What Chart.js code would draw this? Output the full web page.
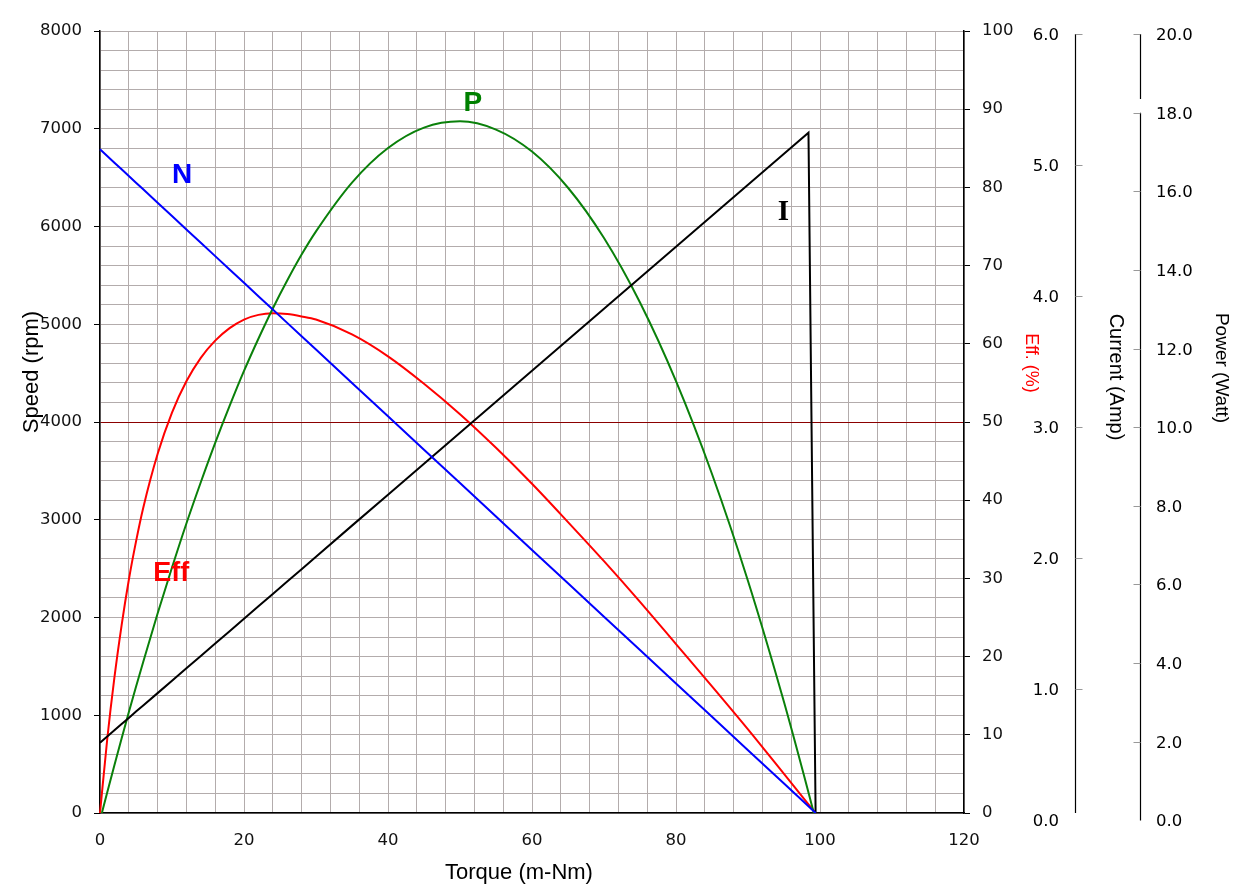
<!DOCTYPE html>
<html>
<head>
<meta charset="utf-8">
<script src="https://cdn.jsdelivr.net/npm/chart.js@4.4.0/dist/chart.umd.min.js"></script>
<style>
html,body{margin:0;padding:0;background:#fff;}
canvas{display:block;}
</style>
</head>
<body>
<canvas id="c" width="1246" height="894"></canvas>
<script>
// ---- data ----
const torque     = [0, 1, 2, 3, 4, 5, 6, 8, 10, 12, 14, 16, 18, 20, 22, 24, 26, 28, 30, 35, 40, 45, 50, 55, 60, 65, 70, 75, 80, 85, 90, 95, 98.4, 99.4];
const speed      = [6790, 6722, 6653, 6585, 6517, 6448, 6380, 6243, 6107, 5970, 5834, 5697, 5560, 5424, 5287, 5151, 5014, 4877, 4741, 4399, 4058, 3716, 3375, 3033, 2691, 2350, 2008, 1667, 1325, 984, 642, 301, 68, 0];
const current    = [0.593, 0.640, 0.688, 0.735, 0.782, 0.830, 0.877, 0.971, 1.066, 1.161, 1.255, 1.350, 1.444, 1.539, 1.634, 1.728, 1.823, 1.917, 2.012, 2.249, 2.485, 2.722, 2.958, 3.195, 3.431, 3.668, 3.904, 4.141, 4.377, 4.614, 4.850, 5.087, 5.247, 0];
const power      = [0, 0.71, 1.40, 2.08, 2.75, 3.40, 4.03, 5.26, 6.43, 7.55, 8.60, 9.60, 10.54, 11.43, 12.25, 13.02, 13.73, 14.39, 14.98, 16.22, 17.10, 17.62, 17.78, 17.57, 17.01, 16.09, 14.81, 13.17, 11.17, 8.81, 6.09, 3.01, 0.71, 0];
const efficiency = [0, 9.4, 17.3, 24.0, 29.8, 34.7, 39.0, 45.9, 51.2, 55.2, 58.2, 60.4, 62.0, 63.1, 63.7, 63.9, 63.8, 63.5, 63.1, 61.2, 58.4, 54.9, 51.0, 46.7, 42.1, 37.2, 32.2, 27.0, 21.6, 16.2, 10.7, 5.0, 1.1, 0];

const currentTicks = [0, 1, 2, 3, 4, 5, 6];
const powerTicks   = [0, 2, 4, 6, 8, 10, 12, 14, 16, 18, 20];

const curveNames   = ['N', 'P', 'I', 'Eff'];
const curveNameAt  = [[11.4, 6527], [51.8, 7263], [94.9, 6138], [9.9, 2445]];

// ---- styling ----
const TICK_FONT = {family: 'DejaVu Sans', size: 16.5};
const GRID = '#b3acac';
const pts = (ys) => torque.map((t, i) => ({x: t, y: ys[i]}));

const extraAxes = {
  id: 'extraAxes',
  afterDraw(chart) {
    const ctx = chart.ctx, ca = chart.chartArea;
    const sI = chart.scales.yI, sP = chart.scales.yP;
    ctx.save();
    ctx.lineWidth = 1.2;
    ctx.strokeStyle = '#000';
    // Current axis
    const xI = 1075.5;
    ctx.beginPath();
    ctx.moveTo(xI, sI.getPixelForValue(currentTicks[currentTicks.length - 1]));
    ctx.lineTo(xI, ca.bottom);
    ctx.stroke();
    ctx.font = '16.5px "DejaVu Sans"';
    ctx.fillStyle = '#000';
    ctx.textAlign = 'right';
    ctx.textBaseline = 'middle';
    ctx.strokeStyle = '#999';
    ctx.lineWidth = 1;
    currentTicks.forEach(v => {
      const y = Math.round(sI.getPixelForValue(v)) + 0.5;
      if (y <= ca.bottom) {
        ctx.beginPath(); ctx.moveTo(xI, y); ctx.lineTo(xI + 7, y); ctx.stroke();
      }
      ctx.fillText(v.toFixed(1), 1059, y + 1);
    });
    // Power axis (with a break between 18 and 20)
    const xP = 1140.5;
    ctx.strokeStyle = '#000';
    ctx.lineWidth = 1.2;
    ctx.beginPath();
    ctx.moveTo(xP, sP.getPixelForValue(20)); ctx.lineTo(xP, sP.getPixelForValue(18.35));
    ctx.moveTo(xP, sP.getPixelForValue(18)); ctx.lineTo(xP, sP.getPixelForValue(0));
    ctx.stroke();
    ctx.textAlign = 'left';
    ctx.strokeStyle = '#999';
    ctx.lineWidth = 1;
    powerTicks.forEach(v => {
      const y = Math.round(sP.getPixelForValue(v)) + 0.5;
      if (v > 0) { ctx.beginPath(); ctx.moveTo(xP - 7, y); ctx.lineTo(xP, y); ctx.stroke(); }
      ctx.fillText(v.toFixed(1), 1156, y + 1);
    });
    // Axis titles
    const title = (text, x, y, rot, font, color) => {
      ctx.save();
      ctx.translate(x, y);
      ctx.rotate(rot);
      ctx.font = font;
      ctx.fillStyle = color;
      ctx.textAlign = 'center';
      ctx.textBaseline = 'middle';
      ctx.fillText(text, 0, 0);
      ctx.restore();
    };
    title('Speed (rpm)', 32, 372, -Math.PI / 2, '22px "Liberation Sans"', '#000');
    title('Torque (m-Nm)', 519, 873, 0, '22px "Liberation Sans"', '#000');
    title('Eff. (%)', 1031, 363, Math.PI / 2, '18px "Liberation Sans"', '#ff0000');
    title('Current (Amp)', 1116, 377, Math.PI / 2, '20px "Liberation Sans"', '#000');
    title('Power (Watt)', 1221, 368, Math.PI / 2, '19px "Liberation Sans"', '#000');
    ctx.restore();
  },
  afterDatasetsDraw(chart) {
    const ctx = chart.ctx, sx = chart.scales.x, sy = chart.scales.y;
    const colors = ['#0000ff', '#008000', '#000000', '#ff0000'];
    const fonts = ['bold 28px "Liberation Sans"', 'bold 28px "Liberation Sans"', 'bold 29px "Liberation Serif"', 'bold 27px "Liberation Sans"'];
    ctx.save();
    ctx.textAlign = 'center';
    ctx.textBaseline = 'middle';
    curveNames.forEach((n, i) => {
      ctx.font = fonts[i];
      ctx.fillStyle = colors[i];
      ctx.fillText(n, sx.getPixelForValue(curveNameAt[i][0]), sy.getPixelForValue(curveNameAt[i][1]));
    });
    ctx.restore();
  }
};

const lineDs = (label, ys, axis, color, smooth) => ({
  label, data: pts(ys), yAxisID: axis,
  borderColor: color, backgroundColor: color, borderWidth: 2,
  pointRadius: 0, fill: false,
  tension: 0,
  cubicInterpolationMode: smooth ? 'monotone' : 'default',
  clip: {left: 2, top: 2, right: 2, bottom: 0}
});

new Chart(document.getElementById('c'), {
  type: 'line',
  data: {
    datasets: [
      lineDs('N', speed, 'y', '#0000ff', false),
      lineDs('I', current, 'yI', '#000000', false),
      lineDs('P', power, 'yP', '#0a800a', true),
      lineDs('Eff', efficiency, 'yE', '#ff0000', true)
    ]
  },
  options: {
    responsive: false,
    animation: false,
    devicePixelRatio: 1,
    layout: {padding: {top: 31, left: 0, right: 0, bottom: 0}},
    plugins: {legend: {display: false}, tooltip: {enabled: false}},
    scales: {
      x: {
        type: 'linear', position: 'bottom', min: 0, max: 120,
        ticks: {stepSize: 4, autoSkip: false, maxRotation: 0, padding: 10, color: '#111', font: TICK_FONT,
                callback: v => (v % 20 === 0 ? String(v) : '')},
        grid: {color: GRID, lineWidth: 1, tickLength: 8, tickColor: 'rgba(0,0,0,0)'},
        border: {color: '#000', width: 1.5},
        afterFit: s => { s.height = 81; }
      },
      y: {
        type: 'linear', position: 'left', min: 0, max: 8000,
        ticks: {stepSize: 200, autoSkip: false, maxTicksLimit: 100, padding: 12, color: '#111', font: TICK_FONT,
                callback: v => (v % 1000 === 0 ? String(v) : '')},
        grid: {
          color: c => (c.tick && c.tick.value === 4000 ? '#8b0000' : GRID),
          lineWidth: 1, tickLength: 6,
          tickColor: c => (c.tick && c.tick.value % 1000 === 0 ? '#000' : 'rgba(0,0,0,0)')
        },
        border: {color: '#000', width: 1.5},
        afterFit: s => { s.width = 100; }
      },
      yE: {
        type: 'linear', position: 'right', min: 0, max: 100,
        ticks: {stepSize: 10, autoSkip: false, padding: 12, color: '#111', font: TICK_FONT},
        grid: {drawOnChartArea: false, tickLength: 6, tickColor: '#000'},
        border: {color: '#000', width: 1.5},
        afterFit: s => { s.width = 282; }
      },
      yI: {type: 'linear', position: 'right', display: false, min: 0.05646, max: 6.02289},
      yP: {type: 'linear', position: 'right', display: false, min: 0.1882, max: 20.0763}
    }
  },
  plugins: [extraAxes]
});
</script>
</body>
</html>
